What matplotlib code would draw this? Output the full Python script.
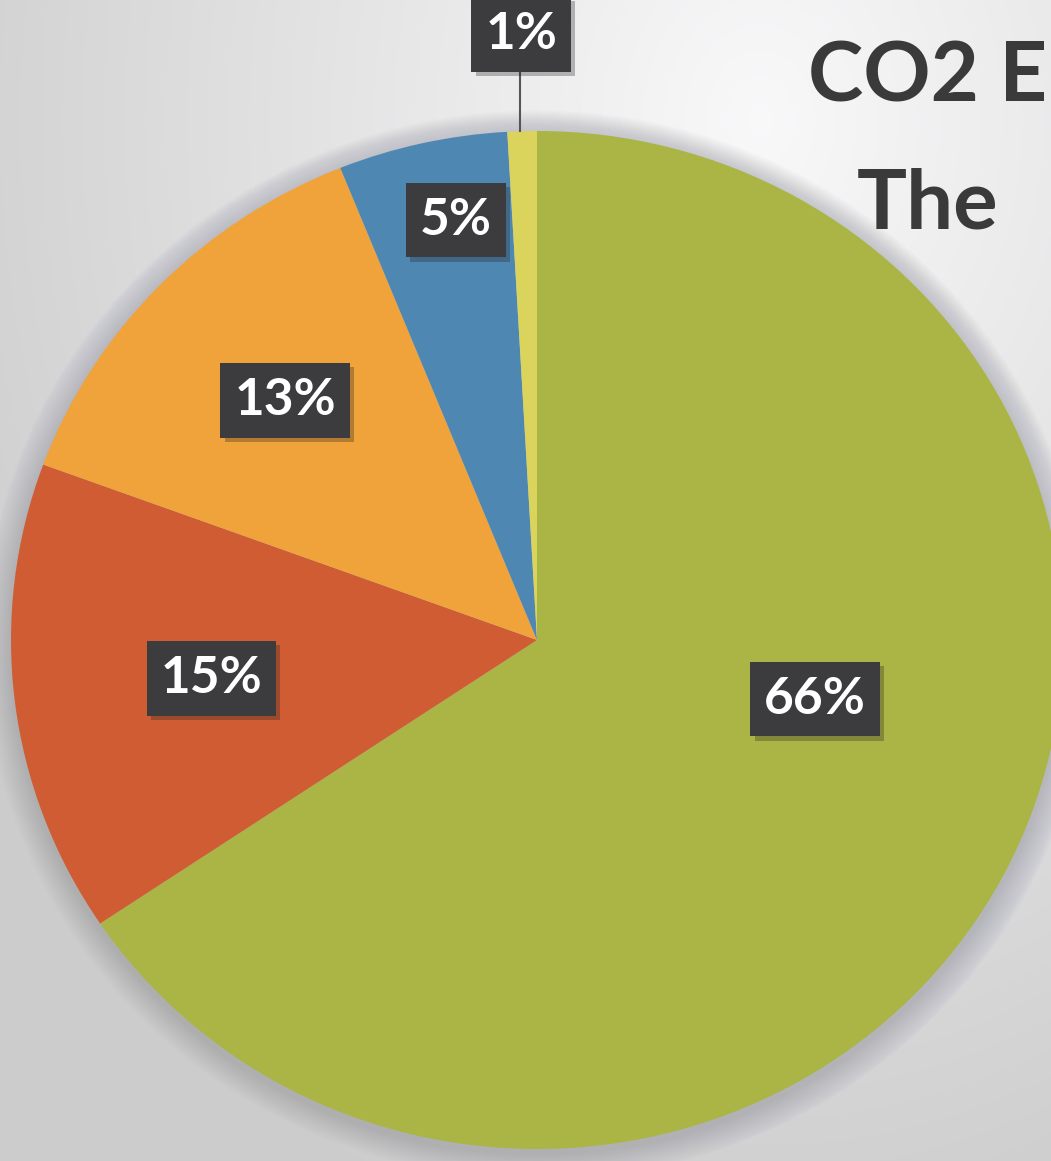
import numpy as np
import matplotlib
matplotlib.use("Agg")
import matplotlib.pyplot as plt
from matplotlib.patches import Ellipse
import matplotlib.patheffects as pe

# ---- data ----
categories = ["Green", "Red", "Orange", "Blue", "Yellow"]
values = [65.6, 15.0, 13.3, 5.2, 0.9]
labels = [f"{round(v)}%" for v in values]
colors = ["#abb545", "#d05c33", "#f0a33a", "#4f87b3", "#dbd45c"]

# label anchor positions (in pie radius units), Excel "best fit" style
label_pos = [(0.529, -0.116), (-0.619, -0.076), (-0.479, 0.471),
             (-0.154, 0.825), (-0.030, 1.19)]

W, H = 1051, 1161
CX, CY = 537, 640          # pie centre in pixels (from top-left)
RX, RY = 526, 509          # pie radii in pixels

fig = plt.figure(figsize=(W / 100, H / 100), dpi=100)

# ---- background gradient ----
bg = fig.add_axes([0, 0, 1, 1], zorder=0)
yy, xx = np.mgrid[0:H, 0:W]
d = np.sqrt(((xx - 760) / 900.0) ** 2 + ((yy - 120) / 1150.0) ** 2)
v = np.clip(0.975 - 0.17 * d, 0.80, 0.98)
img = np.dstack([v, v, v * 1.005])
img = np.clip(img, 0, 1)
bg.imshow(img, extent=(0, W, H, 0), aspect="auto", interpolation="bilinear")
bg.set_xlim(0, W)
bg.set_ylim(H, 0)
bg.axis("off")

# ---- pie ----
ax = fig.add_axes([0, 0, 1, 1], zorder=1)
ax.patch.set_alpha(0)

# soft diffuse shadow around pie
n = 30
for i in range(n):
    s = 1 + (n - i) * 0.0017
    ax.add_patch(Ellipse((0.0, -0.01), 2 * s, 2 * s,
                         facecolor="#9a9aa6", edgecolor="none",
                         alpha=0.018, zorder=0))

wedges, _ = ax.pie(values, colors=colors, startangle=90, counterclock=False,
                   radius=1, center=(0, 0), wedgeprops=dict(linewidth=0))
for w in wedges:
    w.set_zorder(2)

ax.set_aspect("auto")
ax.set_xlim(-CX / RX, (W - CX) / RX)
ax.set_ylim(-(H - CY) / RY, CY / RY)
ax.axis("off")

# leader line for the smallest slice
ax.plot([-0.032, -0.032], [1.0, 1.12], color="#555555", lw=1.5, zorder=3)

for (x, y), lab in zip(label_pos, labels):
    t = ax.text(x, y, lab, ha="center", va="center", color="white",
                fontsize=37, fontweight="bold", family=["Lato", "DejaVu Sans"],
                zorder=5,
                bbox=dict(boxstyle="square,pad=0.27", fc="#3c3c3f", ec="none"))
    t.get_bbox_patch().set_path_effects(
        [pe.SimplePatchShadow(offset=(3, -3), shadow_rgbFace="#222222", alpha=0.3),
         pe.Normal()])

# ---- title (cropped at right edge) ----
fig.text(808 / W, 1 - 101 / H, "CO2 E", ha="left", va="baseline",
         fontsize=60, fontweight="bold", color="#3a3a3a",
         family=["Lato", "DejaVu Sans"], zorder=6)
fig.text(857 / W, 1 - 229 / H, "The", ha="left", va="baseline",
         fontsize=60, fontweight="bold", color="#3a3a3a",
         family=["Lato", "DejaVu Sans"], zorder=6)

fig.savefig("out.png", dpi=100)
